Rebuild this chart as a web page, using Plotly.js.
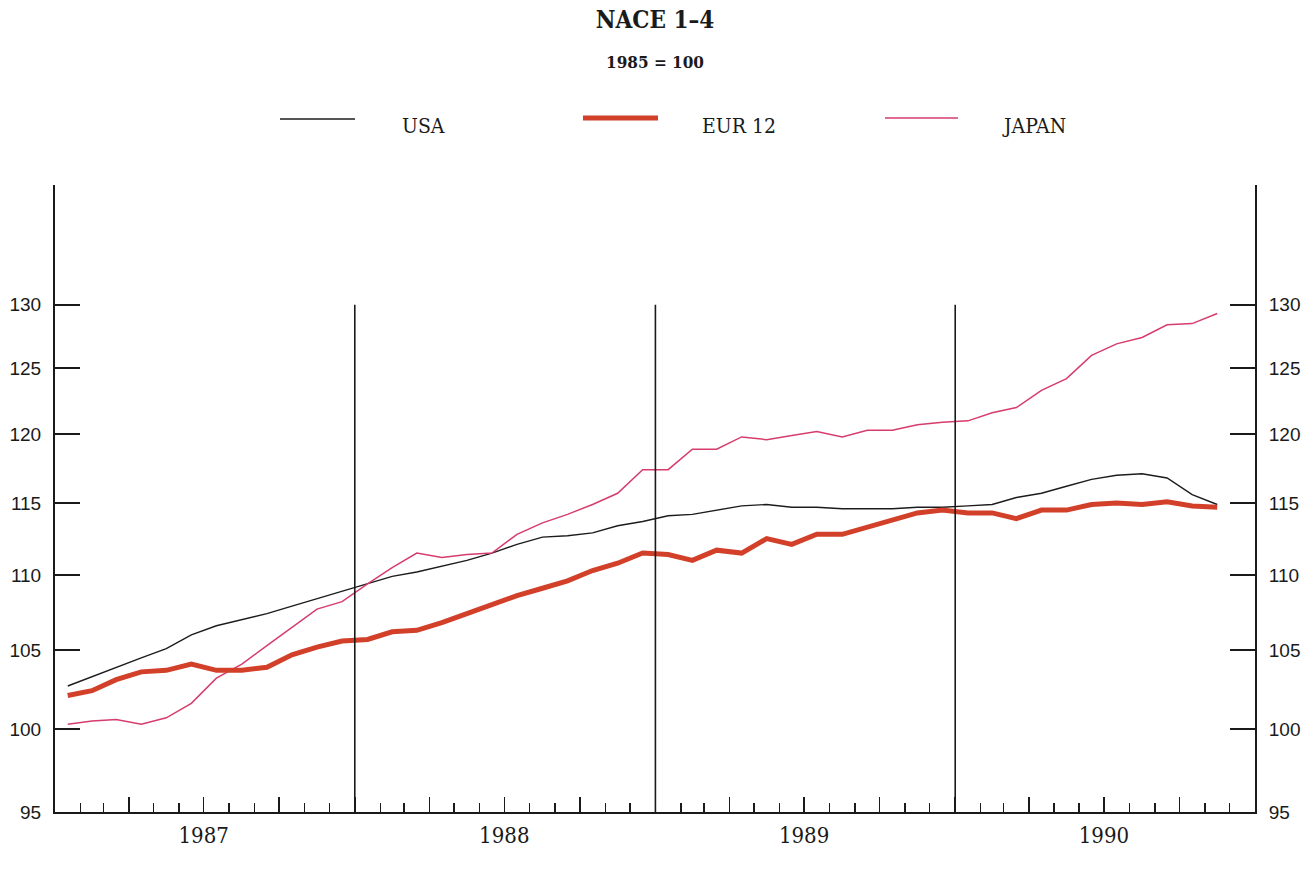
<!DOCTYPE html>
<html>
<head>
<meta charset="utf-8">
<script src="https://cdn.plot.ly/plotly-3.0.1.min.js"></script>
<style>html,body{margin:0;padding:0;background:#fff}#chart{width:1316px;height:882px}</style>
</head>
<body>
<div id="chart"></div>
<script>
// ---- data (monthly index, 1985 = 100) ----
const months = [
 '1987-01','1987-02','1987-03','1987-04','1987-05','1987-06','1987-07','1987-08','1987-09','1987-10','1987-11','1987-12',
 '1988-01','1988-02','1988-03','1988-04','1988-05','1988-06','1988-07','1988-08','1988-09','1988-10','1988-11','1988-12',
 '1989-01','1989-02','1989-03','1989-04','1989-05','1989-06','1989-07','1989-08','1989-09','1989-10','1989-11','1989-12',
 '1990-01','1990-02','1990-03','1990-04','1990-05','1990-06','1990-07','1990-08','1990-09','1990-10','1990-11'
];
const usa = [
 102.7,103.3,103.9,104.5,105.1,106.0,106.6,107.0,107.4,107.9,108.4,108.9,
 109.4,109.9,110.2,110.6,111.0,111.5,112.1,112.6,112.7,112.9,113.4,113.7,
 114.1,114.2,114.5,114.8,114.9,114.7,114.7,114.6,114.6,114.6,114.7,114.7,
 114.8,114.9,115.4,115.7,116.2,116.7,117.0,117.1,116.8,115.6,114.9
];
const eur12 = [
 102.1,102.4,103.1,103.6,103.7,104.1,103.7,103.7,103.9,104.7,105.2,105.6,
 105.7,106.2,106.3,106.8,107.4,108.0,108.6,109.1,109.6,110.3,110.8,111.5,
 111.4,111.0,111.7,111.5,112.5,112.1,112.8,112.8,113.3,113.8,114.3,114.5,
 114.3,114.3,113.9,114.5,114.5,114.9,115.0,114.9,115.1,114.8,114.7
];
const japan = [
 100.3,100.5,100.6,100.3,100.7,101.6,103.2,104.1,105.3,106.5,107.7,108.2,
 109.4,110.5,111.5,111.2,111.4,111.5,112.8,113.6,114.2,114.9,115.7,117.4,
 117.4,118.9,118.9,119.8,119.6,119.9,120.2,119.8,120.3,120.3,120.7,120.9,
 121.0,121.6,122.0,123.3,124.2,126.0,126.9,127.4,128.4,128.5,129.3
];
const seriesNames = ['USA','EUR 12','JAPAN'];
const yTicks = [95,100,105,110,115,120,125,130];
const yTickText = ['95','100','105','110','115','120','125','130'];
const yearLabels = ['1987','1988','1989','1990'];
const yearMid = ['1987-07-01','1988-07-01','1989-07-01','1990-07-01'];
const yearBounds = ['1988-01-01','1989-01-01','1990-01-01'];
const quarterTicks = [
 '1987-04-01','1987-07-01','1987-10-01','1988-01-01','1988-04-01','1988-07-01','1988-10-01',
 '1989-01-01','1989-04-01','1989-07-01','1989-10-01','1990-01-01','1990-04-01','1990-07-01','1990-10-01'
];

// ---- styles ----
const styles = [
  {color:'#1c1c1c', width:1.4},
  {color:'#d2402a', width:5},
  {color:'#d63c6c', width:1.5}
];
const seriesData = [usa, eur12, japan];
// EUR 12 sits on the overlaid (right / year-label) axes so it is drawn on top
const axesOf = [['x','y'],['x2','y2'],['x','y']];

const M = {l:55, r:61, t:185, b:70};
const W = 1316 - M.l - M.r, H = 882 - M.t - M.b;
const px = x => (x - M.l) / W;
const py = y => (M.t + H - y) / H;

const traces = seriesData.map((d,i) => ({
  type:'scatter', mode:'lines', name:seriesNames[i],
  x:months, y:d, xperiod:'M1', xperiodalignment:'middle',
  xaxis:axesOf[i][0], yaxis:axesOf[i][1],
  line:{color:styles[i].color, width:styles[i].width},
  showlegend:false, hoverinfo:'skip'
}));

const axisColor = '#1a1a1a';
const yRange = [Math.log10(95), Math.log10(140)];
const xRange = ['1987-01-01','1991-01-01'];

const yAxisBase = {
  type:'log', range:yRange, tickmode:'array', tickvals:yTicks, ticktext:yTickText,
  ticks:'inside', ticklen:25, tickwidth:1.6, tickcolor:axisColor,
  showline:true, linecolor:axisColor, linewidth:2, showgrid:false, zeroline:false,
  tickfont:{family:'Liberation Sans, Arial, sans-serif', size:19, color:'#1a1a1a'},
  ticklabelstandoff:8, fixedrange:true
};

// legend samples and labels (layout positions)
const legendSample = [[280,355,119],[583,658,118],[885,958,118]];
const legendText = [400,700,1000];
const shapes = [];
const annotations = [];
legendSample.forEach((s,i) => {
  shapes.push({type:'line', xref:'paper', yref:'paper', x0:px(s[0]), x1:px(s[1]), y0:py(s[2]), y1:py(s[2]),
    line:{color:styles[i].color, width:styles[i].width}});
  annotations.push({xref:'paper', yref:'paper', x:px(legendText[i]), y:py(126), xanchor:'left', yanchor:'middle',
    text:seriesNames[i], showarrow:false,
    font:{family:'DejaVu Serif Condensed, DejaVu Serif, serif', size:21, color:'#1a1a1a'}});
});
yearBounds.forEach(d => {
  shapes.push({type:'line', xref:'x', yref:'y', x0:d, x1:d, y0:95, y1:130, line:{color:axisColor, width:1.6}});
});
annotations.push({xref:'paper', yref:'paper', x:0.5, y:py(62), xanchor:'center', yanchor:'middle',
  text:'<b>1985 = 100</b>', showarrow:false,
  font:{family:'DejaVu Serif Condensed, DejaVu Serif, serif', size:17, color:'#1a1a1a'}});

const layout = {
  width:1316, height:882, margin:M,
  paper_bgcolor:'#ffffff', plot_bgcolor:'#ffffff',
  showlegend:false,
  title:{text:'NACE 1–4', x:0.5, xref:'paper', xanchor:'center', y:1-20/882, yref:'container', yanchor:'middle',
    font:{family:'DejaVu Serif Condensed, DejaVu Serif, serif', size:24, weight:700, color:'#1a1a1a'}},
  xaxis:{type:'date', range:xRange, showline:true, linecolor:axisColor, linewidth:2,
    tickmode:'array', tickvals:quarterTicks, ticks:'inside', ticklen:15, tickwidth:1.5, tickcolor:axisColor,
    showticklabels:false, showgrid:false, zeroline:false, fixedrange:true,
    minor:{ticks:'inside', dtick:'M1', tick0:'1987-01-01', ticklen:9, tickwidth:1.5, tickcolor:axisColor, showgrid:false}},
  xaxis2:{type:'date', range:xRange, overlaying:'x', anchor:'y2', side:'bottom',
    tickmode:'array', tickvals:yearMid, ticktext:yearLabels, ticks:'', showline:false, showgrid:false, zeroline:false,
    tickfont:{family:'DejaVu Serif Condensed, DejaVu Serif, serif', size:22, color:'#1a1a1a'},
    ticklabelstandoff:8, fixedrange:true},
  yaxis:Object.assign({}, yAxisBase, {side:'left', anchor:'x'}),
  yaxis2:Object.assign({}, yAxisBase, {side:'right', overlaying:'y', anchor:'x2'}),
  shapes:shapes, annotations:annotations
};

Plotly.newPlot('chart', traces, layout, {staticPlot:true, displayModeBar:false});
</script>
</body>
</html>
